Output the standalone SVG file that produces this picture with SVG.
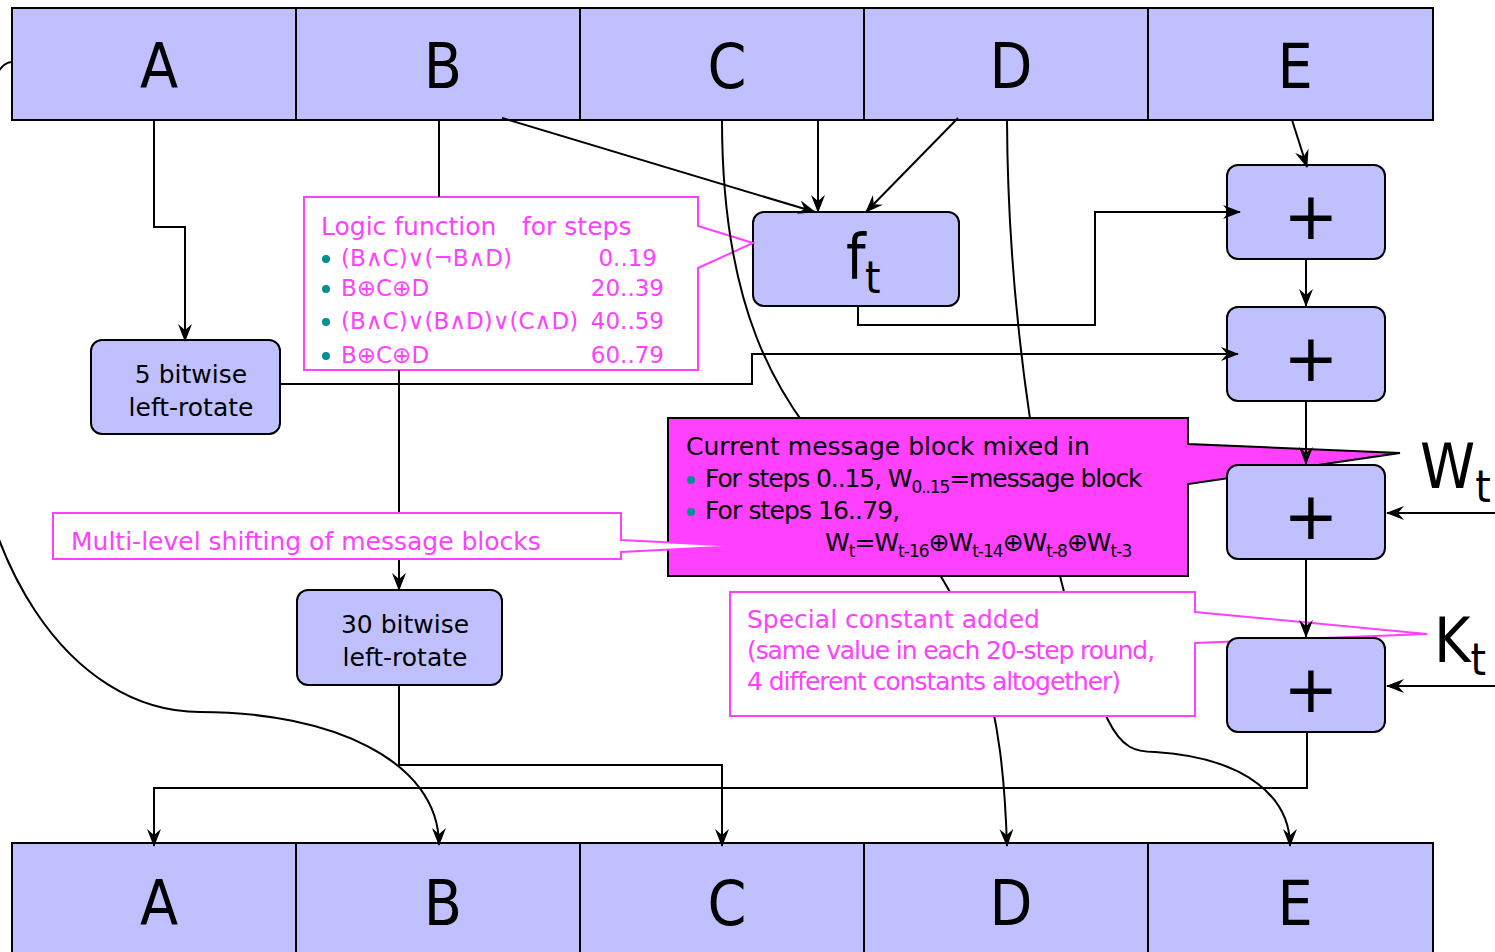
<svg xmlns="http://www.w3.org/2000/svg" width="1495" height="952" viewBox="0 0 1495 952">
<style>
text{font-family:"DejaVu Sans",Verdana,sans-serif;}
.cond{font-family:"DejaVu Sans Condensed","DejaVu Sans",sans-serif;font-stretch:condensed;}
.reg{fill:#c0c0ff;stroke:#000;stroke-width:2;}
.box{fill:#c0c0ff;stroke:#000;stroke-width:2;}
.big{font-size:62px;text-anchor:middle;fill:#000;}
.plus{font-size:66px;text-anchor:middle;fill:#000;}
.lbl{font-size:25px;text-anchor:middle;fill:#000;}
.con{fill:none;stroke:#000;stroke-width:2;}
.arr{marker-end:url(#ah);}
.call{fill:#fff;stroke:#ff40ff;stroke-width:2;}
.mt{fill:#ff40ff;font-size:25px;}
.ml{fill:#ff40ff;font-size:23px;}
.bt{fill:#000;font-size:25px;}
.tight{letter-spacing:-1.1px;}
.dot{fill:#009090;}
</style>
<defs>
<marker id="ah" viewBox="0 0 18 14" refX="17" refY="7" markerWidth="18" markerHeight="14" markerUnits="userSpaceOnUse" orient="auto">
<path d="M0,0 L18,7 L0,14 L6,7 Z" fill="#000"/>
</marker>
</defs>

<g id="reg-top">
<g id="top-A"><rect class="reg" x="12" y="8" width="284" height="112"/><text class="big cond" x="159" y="88">A</text></g>
<g id="top-B"><rect class="reg" x="296" y="8" width="284" height="112"/><text class="big cond" x="443" y="88">B</text></g>
<g id="top-C"><rect class="reg" x="580" y="8" width="284" height="112"/><text class="big cond" x="727" y="88">C</text></g>
<g id="top-D"><rect class="reg" x="864" y="8" width="284" height="112"/><text class="big cond" x="1011" y="88">D</text></g>
<g id="top-E"><rect class="reg" x="1148" y="8" width="285" height="112"/><text class="big cond" x="1295" y="88">E</text></g>
</g>
<g id="reg-bottom">
<g id="bot-A"><rect class="reg" x="12" y="843" width="284" height="120"/><text class="big cond" x="159" y="925">A</text></g>
<g id="bot-B"><rect class="reg" x="296" y="843" width="284" height="120"/><text class="big cond" x="443" y="925">B</text></g>
<g id="bot-C"><rect class="reg" x="580" y="843" width="284" height="120"/><text class="big cond" x="727" y="925">C</text></g>
<g id="bot-D"><rect class="reg" x="864" y="843" width="284" height="120"/><text class="big cond" x="1011" y="925">D</text></g>
<g id="bot-E"><rect class="reg" x="1148" y="843" width="285" height="120"/><text class="big cond" x="1295" y="925">E</text></g>
</g>
<g id="rot5"><rect class="box" x="91" y="340" width="189" height="94" rx="11"/><text class="lbl" x="191" y="383">5 bitwise</text><text class="lbl" x="191" y="416">left-rotate</text></g>
<g id="rot30"><rect class="box" x="297" y="590" width="205" height="95" rx="11"/><text class="lbl" x="405" y="633">30 bitwise</text><text class="lbl" x="405" y="666">left-rotate</text></g>
<g id="ft"><rect class="box" x="753" y="212" width="206" height="94" rx="11"/><text class="cond" x="846" y="278" font-size="62" fill="#000">f</text><text class="cond" x="865" y="293" font-size="44" fill="#000">t</text></g>

<g id="callout-logic">
<path class="call" d="M304,197 H698 V226 L753,243 L698,268 V370 H304 Z"/>
<text class="mt" x="321" y="235">Logic function</text>
<text class="mt" x="522" y="235">for steps</text>
<circle class="dot" cx="326" cy="259" r="4"/><text class="ml" x="341" y="266">(B∧C)∨(¬B∧D)</text><text class="ml" x="657" y="266" text-anchor="end">0..19</text>
<circle class="dot" cx="326" cy="289" r="4"/><text class="ml" x="341" y="296">B⊕C⊕D</text><text class="ml" x="664" y="296" text-anchor="end">20..39</text>
<circle class="dot" cx="326" cy="322" r="4"/><text class="ml" x="341" y="329">(B∧C)∨(B∧D)∨(C∧D)</text><text class="ml" x="664" y="329" text-anchor="end">40..59</text>
<circle class="dot" cx="326" cy="356" r="4"/><text class="ml" x="341" y="363">B⊕C⊕D</text><text class="ml" x="664" y="363" text-anchor="end">60..79</text>
</g>

<g id="connectors">
<path class="con" d="M439,120 V197"/>
<path class="con arr" d="M399,370 V590"/>
<path class="con arr" d="M154,120 V227 H185 V341"/>
<path class="con arr" d="M12,62 C-20,62 -32,200 -32,360 C-32,560 70,712 200,712 C330,712 439,760 439,845"/>
<path class="con arr" d="M722,120 C722,290 765,405 870,495 C985,594 1003,720 1007,846"/>
<path class="con arr" d="M1007,120 C1008,340 1050,600 1108,720 C1122,748 1135,752 1155,752 C1250,758 1290,800 1290,846"/>
<path class="con arr" d="M399,685 V765 H722 V846"/>
<path class="con arr" d="M1307,732 V788 H154 V846"/>
<path class="con arr" d="M502,118 L815,212"/>
<path class="con arr" d="M818,120 V212"/>
<path class="con arr" d="M958,118 L866,212"/>
</g>

<g id="callout-message">
<path d="M668,418 H1188 V444 L1400,453 L1188,484 V576 H668 Z" fill="#ff40ff" stroke="#000" stroke-width="2"/>
<text class="bt" x="686" y="455">Current message block mixed in</text>
<circle class="dot" cx="691" cy="480" r="4"/><text class="bt tight" x="705" y="487">For steps 0..15, W<tspan font-size="17" dy="6">0..15</tspan><tspan dy="-6">=message block</tspan></text>
<circle class="dot" cx="691" cy="512" r="4"/><text class="bt" x="705" y="519" letter-spacing="-0.9">For steps 16..79,</text>
<text class="bt" x="825" y="551" letter-spacing="-1">W<tspan font-size="17" dy="6">t</tspan><tspan dy="-6">=W</tspan><tspan font-size="17" dy="6">t-16</tspan><tspan dy="-6">⊕W</tspan><tspan font-size="17" dy="6">t-14</tspan><tspan dy="-6">⊕W</tspan><tspan font-size="17" dy="6">t-8</tspan><tspan dy="-6">⊕W</tspan><tspan font-size="17" dy="6">t-3</tspan></text>
</g>
<g id="callout-shift">
<path class="call" d="M53,513 H621 V540 L740,546 L621,552 V559 H53 Z"/>
<text class="mt" x="71" y="550">Multi-level shifting of message blocks</text>
</g>
<g id="callout-const">
<path class="call" d="M730,592 H1195 V612 L1427,634 L1195,643 V716 H730 Z"/>
<text class="mt" x="747" y="628">Special constant added</text>
<text class="mt tight" x="747" y="659">(same value in each 20-step round,</text>
<text class="mt" x="747" y="690" letter-spacing="-1.05">4 different constants altogether)</text>
</g>

<g id="add1"><rect class="box" x="1227" y="165" width="158" height="94" rx="11"/><text class="plus" x="1311" y="239">+</text></g>
<g id="add2"><rect class="box" x="1227" y="307" width="158" height="94" rx="11"/><text class="plus" x="1311" y="381">+</text></g>
<g id="add3"><rect class="box" x="1227" y="465" width="158" height="94" rx="11"/><text class="plus" x="1311" y="539">+</text></g>
<g id="add4"><rect class="box" x="1227" y="638" width="158" height="94" rx="11"/><text class="plus" x="1311" y="712">+</text></g>

<g id="label-W"><text class="cond" x="1420" y="488" font-size="62" fill="#000">W<tspan font-size="44" dy="14">t</tspan></text></g>
<g id="label-K"><text class="cond" x="1434" y="662" font-size="62" fill="#000">K<tspan font-size="44" dy="13">t</tspan></text></g>

<g id="connectors-front">
<path class="con arr" d="M858,306 V325 H1095 V212 H1240"/>
<path class="con arr" d="M280,384 H752 V354 H1238"/>
<path class="con arr" d="M1292,120 L1307,167"/>
<path class="con arr" d="M1306,259 V306"/>
<path class="con arr" d="M1306,401 V464"/>
<path class="con arr" d="M1306,559 V637"/>
<path class="con arr" d="M1495,513 H1387"/>
<path class="con arr" d="M1495,686 H1387"/>
</g>
</svg>
